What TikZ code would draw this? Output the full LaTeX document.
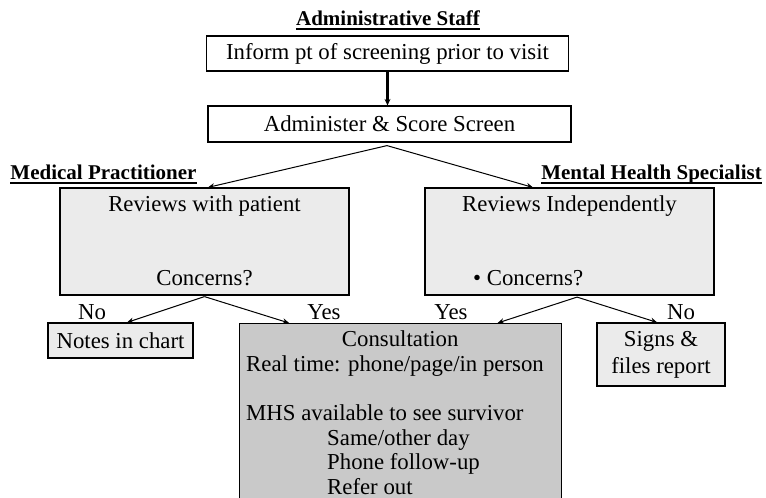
\documentclass[tikz,border=0pt]{standalone}
\usepackage{fontspec}
\setmainfont{Liberation Serif}
\usetikzlibrary{arrows.meta,calc}

\definecolor{paleg}{HTML}{EBEBEB}
\definecolor{midg}{HTML}{C9C9C9}

\tikzset{
  txt/.style={font=\fontsize{22.8}{24.6}\selectfont, inner sep=0pt},
  ttl/.style={font=\fontsize{21}{24}\selectfont\bfseries, inner sep=0pt, anchor=base},
  ulrule/.style={line width=2pt},
  stepbox/.style={draw, line width=1.2pt, inner sep=0pt, txt},
  flow/.style={line width=1pt, -{Stealth[length=6.5pt,width=5.5pt]}},
  bigflow/.style={line width=2.4pt, -{Stealth[length=6.5pt,width=6pt]}},
}

\begin{document}
\begin{tikzpicture}[x=1pt, y=-1pt]
\useasboundingbox (0,0) rectangle (766,498);
\clip (0,0) rectangle (766,498);

% role headings
\node[ttl] (hadmin) at (388,25) {Administrative Staff};
\node[ttl] (hmed)   at (103.5,179) {Medical Practitioner};
\node[ttl] (hmhs)   at (651.5,179) {Mental Health Specialist};
\foreach \h in {hadmin,hmed,hmhs}
  \draw[ulrule] ([yshift=-3.8pt]\h.base west) -- ([yshift=-3.8pt]\h.base east);

% administrative steps
\node[stepbox, minimum width=362pt, minimum height=35pt] (inform) at (387.5,53.5)
  {Inform pt of screening prior to visit};
\node[stepbox, minimum width=363pt, minimum height=36pt] (score) at (389.5,124)
  {Administer \& Score Screen};

% review boxes
\node[stepbox, fill=paleg, minimum width=289pt, minimum height=107pt] (mp)  at (204.5,241.5) {};
\node[txt, anchor=base] (mptop) at (204.5,211.5) {Reviews with patient};
\node[txt, anchor=base] (mpq)   at (204.5,285) {Concerns?};

\node[stepbox, fill=paleg, minimum width=289pt, minimum height=107pt] (mhs) at (569.5,241.5) {};
\node[txt, anchor=base] (mhstop) at (569.5,211.5) {Reviews Independently};
\node[txt, anchor=base west] (mhsq) at (473,285) {\textbullet{} Concerns?};

% outcomes
\node[stepbox, fill=paleg, minimum width=145pt, minimum height=35pt] (notes) at (120.5,340.5)
  {Notes in chart};
\node[stepbox, fill=paleg, minimum width=128pt, minimum height=63pt, align=center,
      font=\fontsize{22.8}{27}\selectfont] (signs) at (661,354.5)
  {Signs \&\\files report};
\node[stepbox, fill=midg, minimum width=322pt, minimum height=200pt, anchor=north west] (consult)
  at (239,323) {};
\node[txt, anchor=base west] (consulttext) at (246,346.7)
  {\begin{tabular}[t]{@{}l@{}}
    \makebox[308pt][c]{Consultation}\\
    Real time: phone/page/in person\\
    \\
    MHS available to see survivor\\
    \hspace*{81pt}Same/other day\\
    \hspace*{81pt}Phone follow-up\\
    \hspace*{81pt}Refer out
  \end{tabular}};

% branch labels
\node[txt, anchor=base] (mpno)   at (92,319)  {No};
\node[txt, anchor=base] (mpyes)  at (324,319) {Yes};
\node[txt, anchor=base] (mhsyes) at (451,319) {Yes};
\node[txt, anchor=base] (mhsno)  at (681,319) {No};

% connectors
\draw[bigflow] (inform.south) -- (inform.south |- score.north);
\coordinate (fork) at ([xshift=-2.5pt, yshift=-3pt]score.south);
\draw[flow] (fork) -- ($(mp.north west)!0.512!(mp.north east)$);
\draw[flow] (fork) -- ($(mhs.north west)!0.374!(mhs.north east)$);

\coordinate (mpout) at ([yshift=-1pt]mp.south);
\draw[flow] (mpout) -- ($(notes.north west)!0.545!(notes.north east)$);
\draw[flow] (mpout) -- ($(consult.north west)!0.155!(consult.north east)$);

\coordinate (mhsout) at ([yshift=-1.5pt]$(mhs.south west)!0.526!(mhs.south east)$);
\draw[flow] (mhsout) -- ($(consult.north west)!0.80!(consult.north east)$);
\draw[flow] (mhsout) -- ($(signs.north west)!0.47!(signs.north east)$);
\end{tikzpicture}
\end{document}
